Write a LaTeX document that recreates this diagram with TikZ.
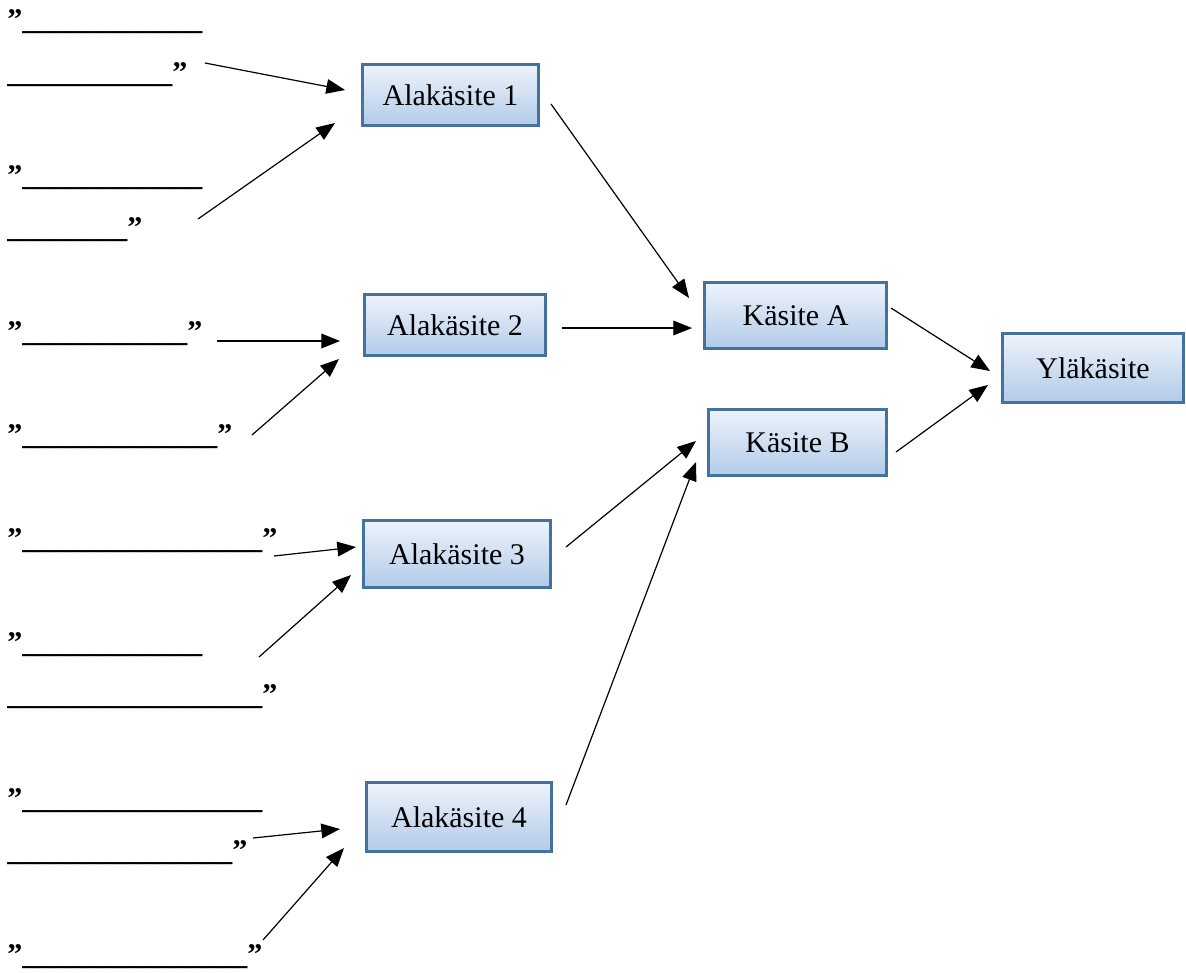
\documentclass[tikz,border=0pt]{standalone}
\usepackage{fontspec}
\setmainfont{Liberation Serif}
\usetikzlibrary{arrows.meta}
\definecolor{boxline}{HTML}{44729F}
\definecolor{boxtop}{HTML}{EEF3FB}
\definecolor{boxbot}{HTML}{B1CBE8}
\begin{document}
\begin{tikzpicture}[x=0.75pt,y=-0.75pt,
  every node/.style={font=\fontsize{22.5pt}{27pt}\selectfont},
  concept/.style={draw=boxline,line width=2pt,top color=boxtop,bottom color=boxbot,
    rectangle,inner sep=0pt,anchor=center},
  blank/.style={anchor=base west,inner sep=0pt,font=\fontsize{22.5pt}{27pt}\selectfont\bfseries},
  arr/.style={line width=0.9pt,-{Triangle[length=14pt,width=11pt]}}]
\useasboundingbox (0,0) rectangle (1186,972);
% concept boxes
\node[concept,minimum width=176*0.75pt,minimum height=61*0.75pt] (a1) at (450.5,95) {Alakäsite 1};
\node[concept,minimum width=181*0.75pt,minimum height=61*0.75pt] (a2) at (455,325) {Alakäsite 2};
\node[concept,minimum width=187*0.75pt,minimum height=67*0.75pt] (a3) at (457,554) {Alakäsite 3};
\node[concept,minimum width=185*0.75pt,minimum height=69*0.75pt] (a4) at (459,817) {Alakäsite 4};
\node[concept,minimum width=182*0.75pt,minimum height=66*0.75pt] (ka) at (795.5,315.5) {Käsite A};
\node[concept,minimum width=178*0.75pt,minimum height=66*0.75pt] (kb) at (797.5,442.5) {Käsite B};
\node[concept,minimum width=181*0.75pt,minimum height=69*0.75pt] (yl) at (1093,368) {Yläkäsite};
% blank lines
\node[blank] (t1a) at (7,29) {”\_\_\_\_\_\_\_\_\_\_\_\_};
\node[blank] (t1b) at (7,82) {\_\_\_\_\_\_\_\_\_\_\_”};
\node[blank] (t2a) at (7,185) {”\_\_\_\_\_\_\_\_\_\_\_\_};
\node[blank] (t2b) at (7,237) {\_\_\_\_\_\_\_\_”};
\node[blank] (t3) at (7,341) {”\_\_\_\_\_\_\_\_\_\_\_”};
\node[blank] (t4) at (7,444) {”\_\_\_\_\_\_\_\_\_\_\_\_\_”};
\node[blank] (t5) at (7,548) {”\_\_\_\_\_\_\_\_\_\_\_\_\_\_\_\_”};
\node[blank] (t6a) at (7,652) {”\_\_\_\_\_\_\_\_\_\_\_\_};
\node[blank] (t6b) at (7,704) {\_\_\_\_\_\_\_\_\_\_\_\_\_\_\_\_\_”};
\node[blank] (t7a) at (7,808) {”\_\_\_\_\_\_\_\_\_\_\_\_\_\_\_\_};
\node[blank] (t7b) at (7,860) {\_\_\_\_\_\_\_\_\_\_\_\_\_\_\_”};
\node[blank] (t8) at (7,964) {”\_\_\_\_\_\_\_\_\_\_\_\_\_\_\_”};
% connector ends
\coordinate (s1) at (205,63);   \coordinate (e1) at (345,90);
\coordinate (s2) at (198,219);  \coordinate (e2) at (335,123);
\coordinate (s3) at (217,341);  \coordinate (e3) at (340,341);
\coordinate (s4) at (252,435);  \coordinate (e4) at (339,359);
\coordinate (s5) at (274,556);  \coordinate (e5) at (356,547);
\coordinate (s6) at (259,657);  \coordinate (e6) at (351,575);
\coordinate (s7) at (253,838);  \coordinate (e7) at (340,829);
\coordinate (s8) at (263,940);  \coordinate (e8) at (344,848);
\coordinate (s9) at (551,104);  \coordinate (e9) at (689,298);
\coordinate (s10) at (562,328); \coordinate (e10) at (692,328);
\coordinate (s11) at (891,308); \coordinate (e11) at (990,371);
\coordinate (s12) at (896,452); \coordinate (e12) at (988,385);
\coordinate (s13) at (566,547); \coordinate (e13) at (696,441);
\coordinate (s14) at (566,805); \coordinate (e14) at (696,462);
\foreach \i in {1,...,14} {\draw[arr] (s\i) -- (e\i);}
\end{tikzpicture}
\end{document}
